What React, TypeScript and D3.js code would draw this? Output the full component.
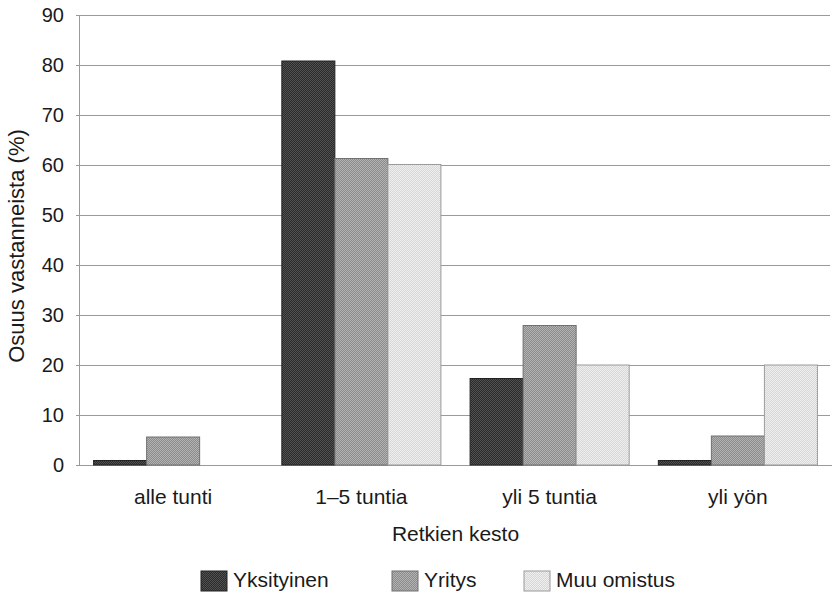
import React from "react";
import * as d3 from "d3";

const categories = ["alle tunti", "1–5 tuntia", "yli 5 tuntia", "yli yön"];
const seriesNames = ["Yksityinen", "Yritys", "Muu omistus"];
const yksityinen = [0.9, 80.8, 17.3, 0.9];
const yritys = [5.6, 61.3, 27.9, 5.8];
const muuOmistus = [0, 60.1, 20, 20];
const yTicks = [0, 10, 20, 30, 40, 50, 60, 70, 80, 90];

const seriesValues = [yksityinen, yritys, muuOmistus];
const patterns = [
  { id: "p0", a: "#2c2c2c", b: "#505050", stroke: "#222" },
  { id: "p1", a: "#8c8c8c", b: "#b2b2b2", stroke: "#707070" },
  { id: "p2", a: "#d6d6d6", b: "#f0f0f0", stroke: "#9a9a9a" },
];

const W = 833;
const H = 602;
const left = 79;
const right = 832;
const top = 15;
const bottom = 465;
const font = "'Liberation Sans', Arial, Helvetica, sans-serif";

export default function App() {
  const x = d3.scaleBand<string>().domain(categories).range([left, right]).paddingInner(0.155).paddingOuter(0.0775);
  const xi = d3.scaleBand<string>().domain(seriesNames).range([0, x.bandwidth()]).padding(0);
  const y = d3.scaleLinear().domain([0, 90]).range([bottom, top]);

  const legendX = [201, 392, 524];

  return (
    <svg width={W} height={H} style={{ position: "absolute", left: 0, top: 0, background: "#fff" }}>
      <defs>
        {patterns.map((p) => (
          <pattern key={p.id} id={p.id} width={2} height={2} patternUnits="userSpaceOnUse">
            <rect width={2} height={2} fill={p.a} />
            <rect width={1} height={1} fill={p.b} />
            <rect x={1} y={1} width={1} height={1} fill={p.b} />
          </pattern>
        ))}
      </defs>
      {/* gridlines */}
      {yTicks.map((t) => (
        <g key={t}>
          <line x1={left - 3} x2={t === 0 ? right : 830} y1={Math.round(y(t)) + 0.5} y2={Math.round(y(t)) + 0.5} stroke="#9a9a9a" strokeWidth={1} />
          <text x={64} y={y(t)} dy="0.36em" textAnchor="end" fontFamily={font} fontSize={20} fill="#1a1a1a">
            {t}
          </text>
        </g>
      ))}
      <line x1={left + 0.5} x2={left + 0.5} y1={top} y2={bottom} stroke="#9a9a9a" strokeWidth={1} />
      {/* bars */}
      {seriesValues.map((vals, si) =>
        vals.map((v, ci) => {
          if (v <= 0) return null;
          const bx = (x(categories[ci]) as number) + (xi(seriesNames[si]) as number);
          const by = y(v);
          return (
            <rect
              key={`${si}-${ci}`}
              x={bx}
              y={by}
              width={xi.bandwidth()}
              height={bottom - by}
              fill={`url(#${patterns[si].id})`}
              stroke={patterns[si].stroke}
              strokeWidth={1}
            />
          );
        })
      )}
      {/* category labels */}
      {categories.map((c) => (
        <text key={c} x={(x(c) as number) + x.bandwidth() / 2} y={504} textAnchor="middle" fontFamily={font} fontSize={21} fill="#1a1a1a">
          {c}
        </text>
      ))}
      <text x={(left + right) / 2} y={541} textAnchor="middle" fontFamily={font} fontSize={21} fill="#1a1a1a">
        Retkien kesto
      </text>
      <text transform={`translate(24,246) rotate(-90)`} textAnchor="middle" fontFamily={font} fontSize={22} fill="#1a1a1a">
        Osuus vastanneista (%)
      </text>
      {/* legend */}
      {seriesNames.map((s, i) => (
        <g key={s}>
          <rect x={legendX[i]} y={571} width={26} height={20} fill={`url(#${patterns[i].id})`} stroke={patterns[i].stroke} strokeWidth={1} />
          <text x={legendX[i] + 32} y={587} fontFamily={font} fontSize={21} fill="#1a1a1a">
            {s}
          </text>
        </g>
      ))}
    </svg>
  );
}
